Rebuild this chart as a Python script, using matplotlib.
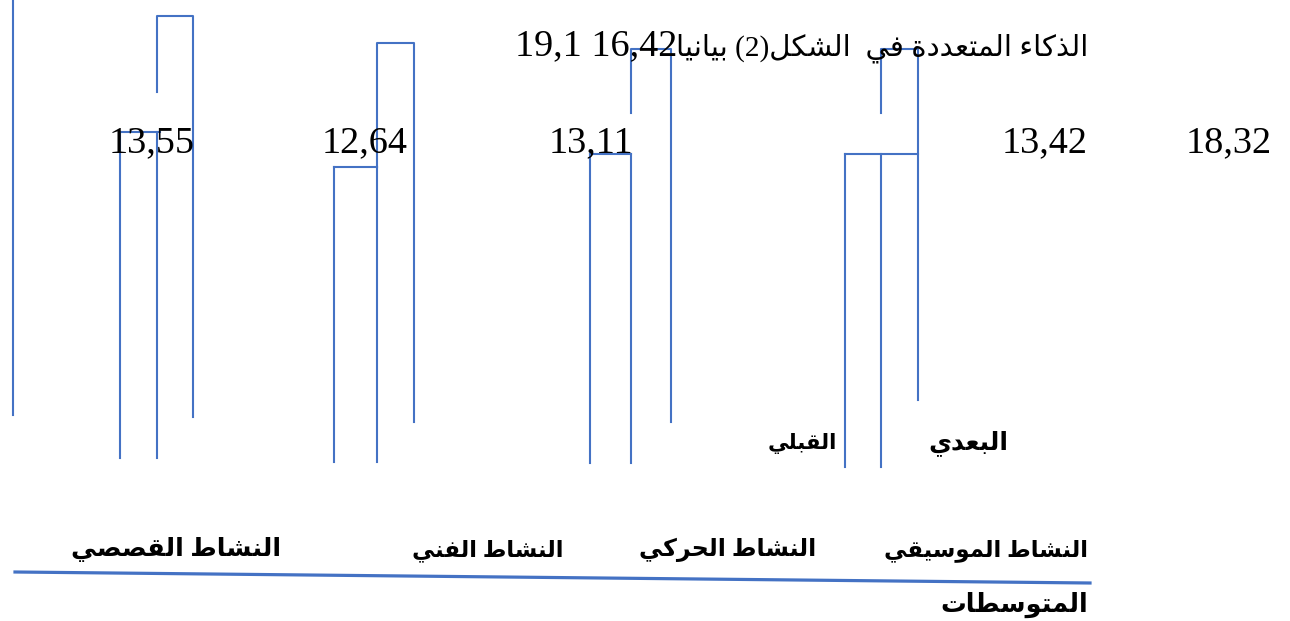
import matplotlib
matplotlib.use("Agg")
import matplotlib.pyplot as plt

# --- data ----------------------------------------------------------------
# order: right to left as printed (music, motor, art, story)
categories = ["النشاط الموسيقي", "النشاط الحركي", "النشاط الفني", "النشاط القصصي"]
before_top = [13.3, 13.3, 12.65, 14.4]      # bar tops, chart units
after_top = [18.55, 18.55, 18.85, 20.2]
before_bottom = [-2.35, -2.15, -2.1, -1.9]  # where the drawn sides stop
after_bottom = [1.0, -0.1, -0.1, 0.15]
stub_end = [15.35, 15.35, 12.65, 16.4]      # broken left side of the after bar
value_labels = ["18,32", "13,42", "13,11", "12,64", "13,55"]
title_numbers = "19,1 16,42"
series = ["البعدي", "القبلي"]
axis_title = "المتوسطات"

# --- layout --------------------------------------------------------------
W, H = 1290, 621
BLUE = "#4472C4"
Y_HI, Y_LO = 21.0, -10.05      # chart units at top / bottom of the page
before_left = [845, 590, 334, 120]
split_x = [881, 631, 377, 157]
after_right = [918, 671, 414, 193]
top_reach = [918, 631, 377, 160]

# minimal arabic shaping (matplotlib has no complex text layout)
_F = {
    "ء": (0xFE80,), "ا": (0xFE8D, 0xFE8E), "ة": (0xFE93, 0xFE94),
    "د": (0xFEA9, 0xFEAA), "ذ": (0xFEAB, 0xFEAC), "ر": (0xFEAD, 0xFEAE),
    "و": (0xFEED, 0xFEEE),
}
for ch, base in [("ب", 0xFE8F), ("ت", 0xFE95), ("ح", 0xFEA1), ("س", 0xFEB1),
                 ("ش", 0xFEB5), ("ص", 0xFEB9), ("ط", 0xFEC1), ("ع", 0xFEC9),
                 ("ف", 0xFED1), ("ق", 0xFED5), ("ك", 0xFED9), ("ل", 0xFEDD),
                 ("م", 0xFEE1), ("ن", 0xFEE5), ("ي", 0xFEF1)]:
    _F[ch] = (base, base + 1, base + 2, base + 3)


def shape(s):
    out = []
    for i, c in enumerate(s):
        f = _F.get(c)
        if f is None:
            out.append(c)
            continue
        p = s[i - 1] if i > 0 else ""
        n = s[i + 1] if i + 1 < len(s) else ""
        jp = len(_F.get(p, ())) == 4 and len(f) >= 2
        jn = len(f) == 4 and len(_F.get(n, ())) >= 2
        out.append(chr(f[3 if jp and jn else 1 if jp else 2 if jn else 0]))
    return "".join(out[::-1])


fig = plt.figure(figsize=(W / 100, H / 100), dpi=100)
fig.patch.set_facecolor("white")
ax = fig.add_axes([0, 0, 1, 1])
ax.set_xlim(0, W)
ax.set_ylim(Y_LO, Y_HI)
ax.axis("off")

# bars (open outlines, the way the original drawing came out)
for i in range(len(categories)):
    l, m, r = before_left[i], split_x[i], after_right[i]
    ax.plot([l, l], [before_bottom[i], before_top[i]], color=BLUE, lw=1.5)
    ax.plot([l, top_reach[i]], [before_top[i], before_top[i]], color=BLUE, lw=1.5)
    ax.plot([m, m], [before_top[i], before_bottom[i]], color=BLUE, lw=1.5)
    ax.plot([m, m, r, r], [stub_end[i], after_top[i], after_top[i], after_bottom[i]],
            color=BLUE, lw=1.5)

# left vertical rule and sloped base rule
ax.plot([13, 13], [0.25, Y_HI], color=BLUE, lw=1.5)
fig.add_artist(plt.Line2D([15 / W, 1090 / W], [1 - 572 / H, 1 - 583 / H],
                          color=BLUE, lw=2.3))

renderer = fig.canvas.get_renderer()
SERIF = ["Liberation Serif", "DejaVu Sans"]


def put(x, y, s, width=None, **kw):
    t = fig.text(x / W, 1 - y / H, s, va="baseline", **kw)
    if width:
        w = t.get_window_extent(renderer).width
        t.set_fontsize(t.get_fontsize() * width / w)
    return t


# numbers
num_x = [1229, 1045, 591, 365, 152]
for s, x in zip(value_labels, num_x):
    put(x, 152, s, family=SERIF, fontsize=27.5, ha="center")
put(677, 55, title_numbers, family=SERIF, fontsize=27.5, ha="right")

# title (arabic part)
title_vis = shape("بيانيا") + " (2)" + shape("الذكاء المتعددة في  الشكل")
put(1088, 55, title_vis, width=412, family=SERIF, fontsize=20, ha="right")

# series names
put(1008, 449, shape(series[0]), width=80, family=SERIF, fontsize=18,
    ha="right", fontweight="bold")
put(837, 449, shape(series[1]), width=70, family=SERIF, fontsize=18,
    ha="right", fontweight="bold")

# category labels
cat_right = [1088, 816, 564, 281]
cat_width = [205, 178, 152, 210]
for s, x, w in zip(categories, cat_right, cat_width):
    put(x, 556, shape(s), width=w, family=SERIF, fontsize=18, ha="right",
        fontweight="bold")

put(1088, 612, shape(axis_title), width=148, family=SERIF, fontsize=18,
    ha="right", fontweight="bold")

fig.savefig("out.png", dpi=100, facecolor="white")
